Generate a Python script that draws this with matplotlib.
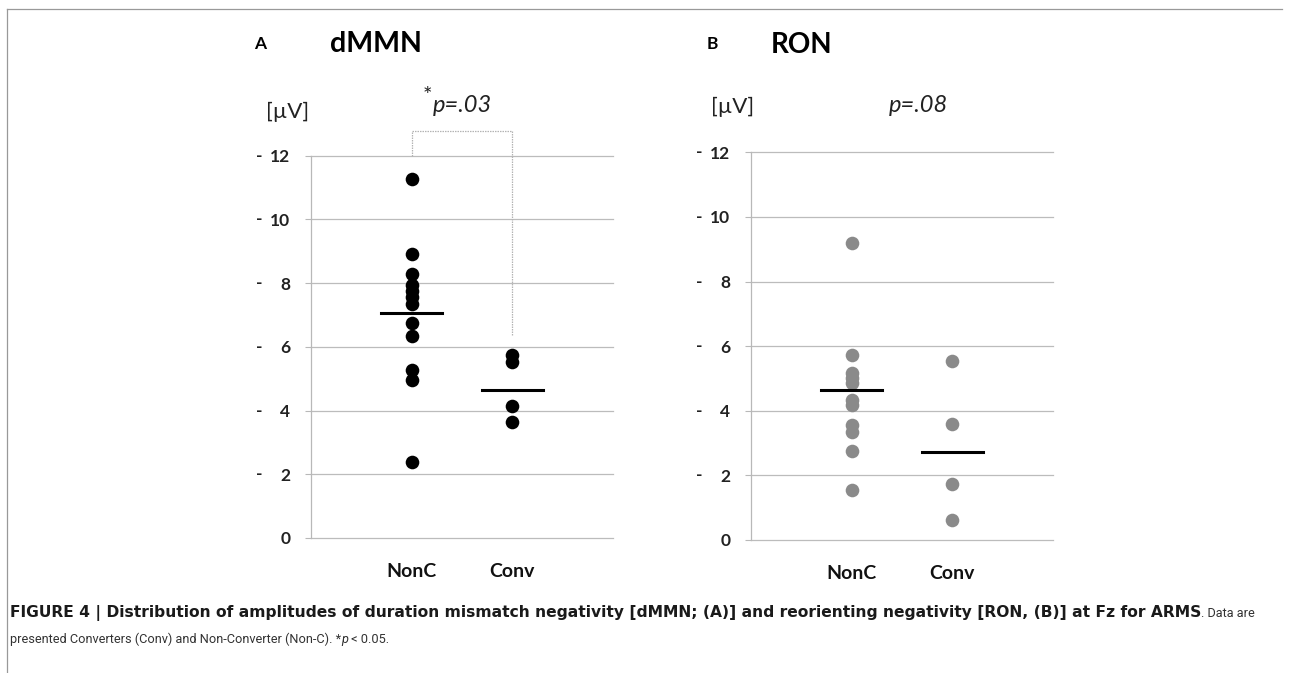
import matplotlib
matplotlib.use("Agg")
import matplotlib.pyplot as plt
from matplotlib import font_manager
from matplotlib.transforms import blended_transform_factory

# ---------------- data ----------------
categories = ["NonC", "Conv"]
ytick_values = [0, 2, 4, 6, 8, 10, 12]

dmmn_nonc = [11.27, 8.90, 8.28, 7.95, 7.75, 7.55, 7.35, 6.74, 6.34, 5.27, 4.95, 2.38]
dmmn_conv = [5.75, 5.54, 4.14, 3.65]
dmmn_means = [7.07, 4.64]

ron_nonc = [9.20, 5.73, 5.16, 5.00, 4.85, 4.33, 4.19, 3.56, 3.35, 2.75, 1.55]
ron_conv = [5.54, 3.59, 1.73, 0.62]
ron_means = [4.64, 2.73]

bracket_top = 12.76
bracket_right_end = 6.35

W, H = 1302, 673


def pick(names):
    for n in names:
        try:
            font_manager.findfont(font_manager.FontProperties(family=n), fallback_to_default=False)
            return n
        except Exception:
            continue
    return "DejaVu Sans"


chart_font = pick(["Lato", "Open Sans", "DejaVu Sans"])
cap_font = pick(["Liberation Sans Narrow", "Roboto", "Liberation Sans"])
plt.rcParams["font.family"] = [chart_font, "DejaVu Sans"]

fig = plt.figure(figsize=(W / 100, H / 100), dpi=100)


def fx(x):
    return x / W


def fy(y):
    return 1 - y / H


def make_panel(left, right, top, bottom, nonc, conv, means, color):
    ax = fig.add_axes([fx(left), fy(bottom), fx(right - left), (bottom - top) / H])
    ax.set_xlim(0, 3)
    ax.set_ylim(0, 12)
    for sp in ["top", "right", "bottom"]:
        ax.spines[sp].set_visible(False)
    ax.spines["left"].set_color("#b8b8b8")
    ax.spines["left"].set_linewidth(0.9)
    ax.set_yticks(ytick_values)
    ax.set_yticklabels([str(v) for v in ytick_values])
    ax.tick_params(axis="y", length=4.3, color="#b8b8b8", pad=10.5,
                   labelsize=12.5, labelcolor="#222222")
    for lab in ax.get_yticklabels():
        lab.set_fontweight("bold")
    ax.set_xticks([1, 2])
    ax.set_xticklabels(categories, fontsize=14, fontweight="bold", color="#111111")
    ax.tick_params(axis="x", length=0, pad=18)
    for v in ytick_values:
        ax.axhline(v, color="#bcbcbc", linewidth=0.9, clip_on=False, zorder=1)
    # dashes before the non-zero tick labels (negative amplitudes)
    tr = blended_transform_factory(ax.transAxes, ax.transData)
    width = right - left
    for v in ytick_values:
        if v != 0:
            ax.text(-52 / width, v, "-", transform=tr, ha="center", va="center",
                    fontsize=12.5, fontweight="bold", color="#222222")
    ax.plot([1] * len(nonc), nonc, "o", color=color, markersize=9.8,
            markeredgewidth=0, clip_on=False, zorder=3)
    ax.plot([2] * len(conv), conv, "o", color=color, markersize=9.8,
            markeredgewidth=0, clip_on=False, zorder=3)
    for i, m in enumerate(means):
        ax.plot([i + 1 - 0.3, i + 1 + 0.3], [m, m], color="black", linewidth=2.2, zorder=4)
    return ax


axA = make_panel(311, 613, 155.7, 538, dmmn_nonc, dmmn_conv, dmmn_means, "black")
axB = make_panel(751, 1053, 152.3, 540, ron_nonc, ron_conv, ron_means, "#8a8a8a")

# significance bracket in panel A
axA.plot([1, 1, 2, 2], [12, bracket_top, bracket_top, bracket_right_end],
         color="#b4b4b4", linewidth=0.9, linestyle=(0, (1.2, 0.8)), clip_on=False, zorder=2)

# panel titles
fig.text(fx(254), fy(44), "A", fontsize=12.5, fontweight="bold", ha="left", va="center")
fig.text(fx(330), fy(44), "dMMN", fontsize=20.5, fontweight="bold", ha="left", va="center")
fig.text(fx(707), fy(44), "B", fontsize=12.5, fontweight="bold", ha="left", va="center")
fig.text(fx(771), fy(45), "RON", fontsize=20, fontweight="bold", ha="left", va="center")

# unit labels
fig.text(fx(288), fy(112), "[\u00b5V]", fontsize=16, ha="center", va="center", color="#222222")
fig.text(fx(733), fy(107), "[\u00b5V]", fontsize=16, ha="center", va="center", color="#222222")

# p values
fig.text(fx(427), fy(96), "*", fontsize=16, ha="center", va="center", color="#222222")
fig.text(fx(433), fy(106), "p=.03", fontsize=17, style="italic", ha="left", va="center",
         color="#222222")
fig.text(fx(918), fy(105), "p=.08", fontsize=17, style="italic", ha="center", va="center",
         color="#222222")

# frame lines
fig.add_artist(plt.Line2D([fx(7), fx(7)], [fy(9), fy(673)], color="#999999", linewidth=0.9))
fig.add_artist(plt.Line2D([fx(7), fx(1282)], [fy(9), fy(9)], color="#999999", linewidth=0.9))

# caption
renderer = fig.canvas.get_renderer()
bold_kw = dict(fontsize=11.2, family=["DejaVu Sans"], fontweight="bold", va="baseline",
               color="#1a1a1a")
reg_kw = dict(fontsize=9.2, family=[cap_font, "DejaVu Sans"], va="baseline", color="#333333")
t1 = fig.text(fx(10), fy(617),
              "FIGURE 4 | Distribution of amplitudes of duration mismatch negativity [dMMN; (A)] "
              "and reorienting negativity [RON, (B)] at Fz for ARMS", **bold_kw)
bb = t1.get_window_extent(renderer)
fig.text(bb.x1 / W, fy(617), ". Data are", **reg_kw)
t2 = fig.text(fx(10), fy(643), "presented Converters (Conv) and Non-Converter (Non-C). *",
              **reg_kw)
bb2 = t2.get_window_extent(renderer)
t3 = fig.text(bb2.x1 / W, fy(643), "p", style="italic", **reg_kw)
bb3 = t3.get_window_extent(renderer)
fig.text(bb3.x1 / W, fy(643), " < 0.05.", **reg_kw)

fig.savefig("out.png", dpi=100)
